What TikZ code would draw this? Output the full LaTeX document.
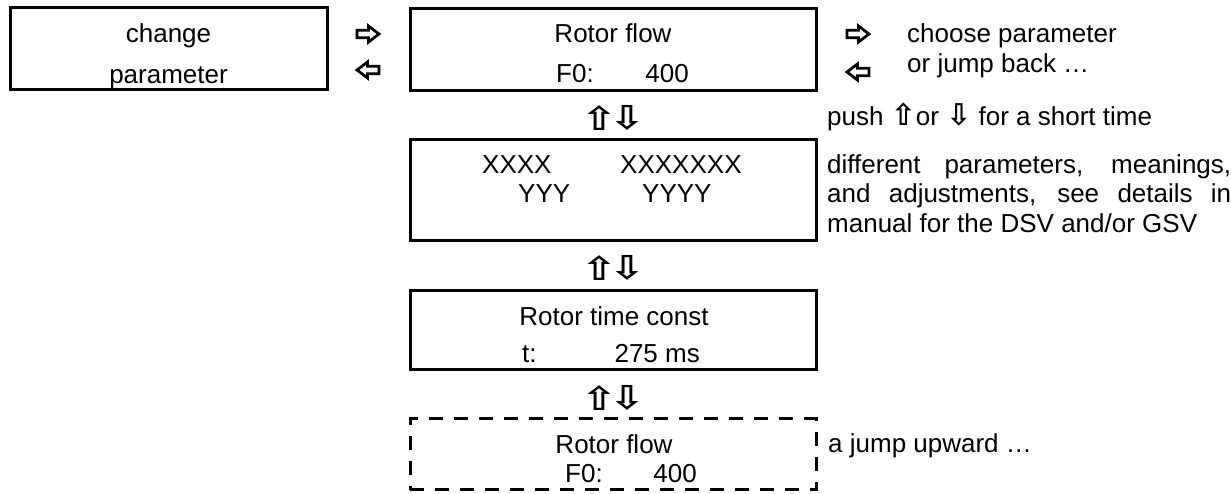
\documentclass[tikz,border=0pt]{standalone}
\usepackage{fontspec}
\setmainfont{Liberation Sans}
\newfontfamily\symfont{DejaVu Sans}
\begin{document}
\begin{tikzpicture}[x=1pt,y=-1pt,
  box/.style={draw, line width=3pt, minimum width=406pt, inner sep=0pt},
  dbox/.style={box, dash pattern=on 14pt off 11pt},
  txt/.style={anchor=base, inner sep=0pt, font=\fontsize{26}{30}\selectfont},
  ltxt/.style={txt, anchor=base west},
  vsym/.style={inner sep=0pt, font=\symfont\bfseries\fontsize{33}{33}\selectfont},
  harrow/.pic={\draw[line width=2.8pt, miter limit=4, fill=white]
     (-11,-3.8) -- (0.5,-3.8) -- (0.5,-8) -- (11,0) -- (0.5,8) -- (0.5,3.8) -- (-11,3.8) -- cycle;},
]
\useasboundingbox (0,0) rectangle (1231,493);
% left box
\node[box, minimum width=317pt, minimum height=82pt] (cp) at (168.5,48.5) {};
\node[txt] (cp1) at (168.5,42) {change};
\node[txt] (cp2) at (168.5,83) {parameter};
% arrows left
\pic at (368,34) {harrow};
\pic[xscale=-1] at (368,70) {harrow};
% box 1
\node[box, minimum height=82pt] (b1) at (613,49) {};
\node[txt] (b1a) at (613,42) {Rotor flow};
\node[ltxt] (b1b) at (556,82) {F0:};
\node[txt, anchor=base east] (b1c) at (689,82) {400};
% right arrows
\pic at (858,34) {harrow};
\pic[xscale=-1] at (858,72) {harrow};
\node[ltxt] (t1) at (907,42) {choose parameter};
\node[ltxt] (t2) at (907,72) {or jump back …};
% up/down 1
\node[vsym] (u1) at (599,118) {\scalebox{1.3}[1]{⇧}};
\node[vsym] (d1) at (627,118) {\scalebox{1.3}[1]{⇩}};
\node[ltxt] (t3) at (827,125) {push {\symfont\bfseries\fontsize{30}{30}\selectfont ⇧}or {\symfont\bfseries\fontsize{30}{30}\selectfont ⇩} for a short time};
% box 2
\node[box, minimum height=101pt] (b2) at (613,190) {};
\node[ltxt] (x1) at (482,173) {XXXX};
\node[ltxt] (x2) at (620,173) {XXXXXXX};
\node[ltxt] (y1) at (518,202) {YYY};
\node[ltxt] (y2) at (642,202) {YYYY};
\node[ltxt] (t4) at (827,173) {\makebox[404pt][s]{different parameters, meanings,}};
\node[ltxt] (t5) at (827,202) {\makebox[404pt][s]{and adjustments, see details in}};
\node[ltxt] (t6) at (827,232) {manual for the DSV and/or GSV};
% up/down 2
\node[vsym] (u2) at (599,268) {\scalebox{1.3}[1]{⇧}};
\node[vsym] (d2) at (627,268) {\scalebox{1.3}[1]{⇩}};
% box 3
\node[box, minimum height=79pt] (b3) at (613,329.5) {};
\node[txt] (b3a) at (614,325) {Rotor time const};
\node[ltxt] (b3b) at (522,362) {t:};
\node[txt, anchor=base east] (b3c) at (700,362) {275 ms};
% up/down 3
\node[vsym] (u3) at (599,398) {\scalebox{1.3}[1]{⇧}};
\node[vsym] (d3) at (627,398) {\scalebox{1.3}[1]{⇩}};
% dashed box
\node[dbox, minimum height=71pt] (b4) at (613,454) {};
\node[txt] (b4a) at (614,453) {Rotor flow};
\node[ltxt] (b4b) at (565,482) {F0:};
\node[txt, anchor=base east] (b4c) at (697,482) {400};
\node[ltxt] (t7) at (828,452) {a jump upward …};
\end{tikzpicture}
\end{document}
